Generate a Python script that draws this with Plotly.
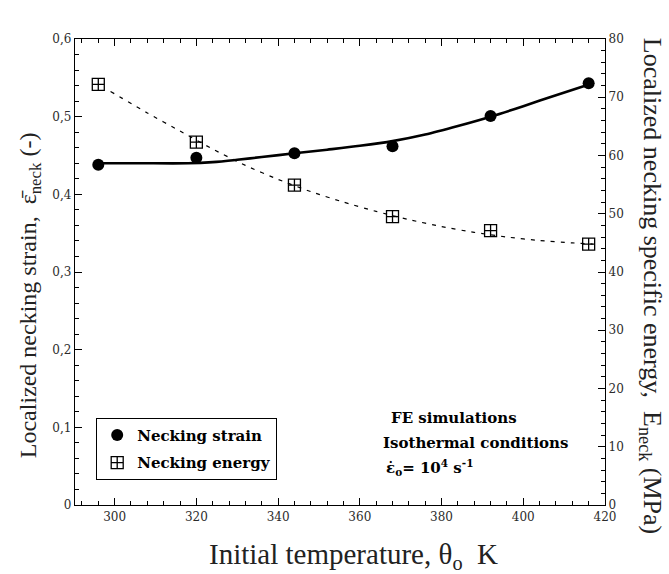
import plotly.graph_objects as go

# Initial temperatures (K) of the FE simulations
temperature = [296, 320, 344, 368, 392, 416]
# Localized necking strain (left axis)
necking_strain = [0.438, 0.447, 0.453, 0.462, 0.501, 0.543]
# Localized necking specific energy, MPa (right axis)
necking_energy = [72.2, 62.3, 54.9, 49.5, 47.1, 44.8]

# Trend line through the necking strain results
strain_fit_t = [296, 306, 318, 324, 330, 336, 344, 352, 360, 368, 376, 384, 392, 400,
                408, 417]
strain_fit_v = [0.440, 0.440, 0.440, 0.4415, 0.4445, 0.4480, 0.4528, 0.4575, 0.4625,
                0.4685, 0.4770, 0.4880, 0.5000, 0.5135, 0.5277, 0.5430]

# Trend line through the necking energy results
energy_fit_t = [299, 308, 316, 324, 332, 340, 348, 356, 364, 372, 380, 388, 396, 404, 412, 417]
energy_fit_v = [71.0, 67.3, 64.2, 61.1, 58.3, 55.9, 53.8, 52.0, 50.4, 49.0, 47.8,
                46.8, 46.0, 45.4, 45.0, 44.8]

x_ticks = [300, 320, 340, 360, 380, 400, 420]
y_ticks = [0, 0.1, 0.2, 0.3, 0.4, 0.5, 0.6]
y_ticktext = ["0", "0,1", "0,2", "0,3", "0,4", "0,5", "0,6"]
y2_ticks = [0, 10, 20, 30, 40, 50, 60, 70, 80]

SERIF = "Liberation Serif"
WIDE_SERIF = "DejaVu Serif"
TICK_FONT = dict(family=WIDE_SERIF, size=12, color="#2b2b2b")
NOTE_FONT = dict(family=WIDE_SERIF, size=15, color="black", weight="bold")

fig = go.Figure()

fig.add_trace(go.Scatter(
    x=strain_fit_t, y=strain_fit_v, mode="lines",
    line=dict(color="black", width=2.6, shape="spline", smoothing=0.8),
    showlegend=False, hoverinfo="skip"))
fig.add_trace(go.Scatter(
    x=energy_fit_t, y=energy_fit_v, mode="lines", yaxis="y2",
    line=dict(color="black", width=1.2, dash="4px,6px", shape="spline", smoothing=0.6),
    showlegend=False, hoverinfo="skip"))
fig.add_trace(go.Scatter(
    x=temperature, y=necking_strain, mode="markers", name="Necking strain",
    legendgroup="strain",
    marker=dict(symbol="circle", size=12, color="black")))
fig.add_trace(go.Scatter(
    x=temperature, y=necking_energy, mode="markers", name="Necking energy",
    legendgroup="energy", yaxis="y2",
    marker=dict(symbol="square-cross-open", size=12, color="black",
                line=dict(width=1.3, color="black"))))

axis_common = dict(
    showline=True, linecolor="black", linewidth=1.3,
    ticks="inside", ticklen=7, tickwidth=1.2, tickcolor="black",
    showgrid=False, zeroline=False, tickfont=TICK_FONT,
)

fig.update_layout(
    width=669, height=574,
    margin=dict(l=75, r=64, t=39, b=69),
    paper_bgcolor="white", plot_bgcolor="white",
    xaxis=dict(range=[290.3, 420], tickvals=x_ticks, mirror="ticks",
               minor=dict(ticks="inside", dtick=4, tick0=300, ticklen=4,
                          tickcolor="black", tickwidth=1.1),
               **axis_common),
    yaxis=dict(range=[0, 0.6], tickvals=y_ticks, ticktext=y_ticktext,
               minor=dict(ticks="inside", dtick=0.02, tick0=0, ticklen=4,
                          tickcolor="black", tickwidth=1.1),
               **axis_common),
    yaxis2=dict(range=[0, 80], tickvals=y2_ticks, overlaying="y", side="right",
                minor=dict(ticks="inside", dtick=2, tick0=0, ticklen=4,
                           tickcolor="black", tickwidth=1.1),
                **axis_common),
    legend=dict(x=0.04, y=0.054, xanchor="left", yanchor="bottom",
                bgcolor="white", bordercolor="black", borderwidth=1,
                font=NOTE_FONT, tracegroupgap=5, itemwidth=30),
    showlegend=True,
)

fig.add_annotation(text="Initial temperature, θ<sub>o</sub>  K",
                   xref="paper", yref="paper", x=0.526, y=-0.109,
                   xanchor="center", yanchor="middle", showarrow=False,
                   font=dict(family=SERIF, size=29, color="#222222"))
fig.add_annotation(text="Localized necking strain,  ε̄<sub>neck</sub> (-)",
                   xref="paper", yref="paper", x=-0.085, y=0.45,
                   xanchor="center", yanchor="middle", showarrow=False,
                   textangle=-90,
                   font=dict(family=SERIF, size=24, color="#222222"))
fig.add_annotation(text="Localized necking specific energy,  E<sub>neck</sub> (MPa)",
                   xref="paper", yref="paper", x=1.087, y=0.47,
                   xanchor="center", yanchor="middle", showarrow=False,
                   textangle=90,
                   font=dict(family=SERIF, size=26, color="#222222"))

# Simulation conditions, one line per annotation
notes = ["FE simulations", "Isothermal conditions",
         "ε̇<sub>o</sub>= 10<sup>4</sup> s<sup>-1</sup>"]
note_x = [0.593, 0.578, 0.583]
note_y = [0.187, 0.133, 0.080]
for text, nx, ny in zip(notes, note_x, note_y):
    fig.add_annotation(text=text, xref="paper", yref="paper", x=nx, y=ny,
                       xanchor="left", yanchor="middle", align="left",
                       showarrow=False, font=NOTE_FONT)

fig.write_html("out.html")
